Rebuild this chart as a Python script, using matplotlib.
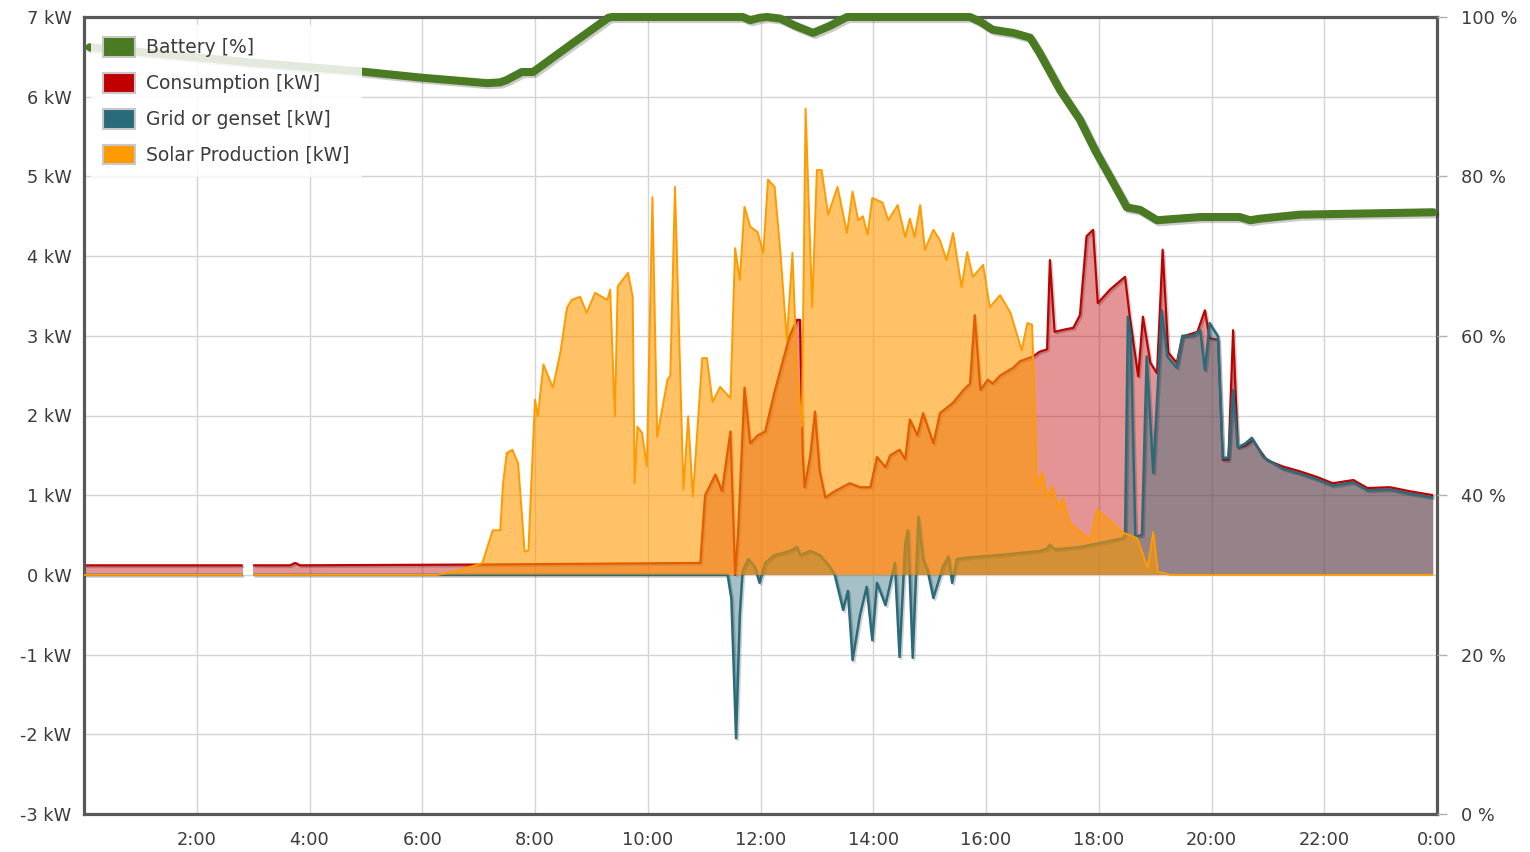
import matplotlib
matplotlib.use('Agg')
import matplotlib.pyplot as plt
import matplotlib.patheffects as pe
from matplotlib.patches import Patch
import numpy as np

# times in minutes since midnight
cons_t = [0, 169, 180, 219, 225, 230, 421, 656, 661, 672, 679, 688, 693, 696, 703, 709, 717, 725, 735,
          751, 759, 762, 765, 767, 773, 778, 783, 789, 799, 815, 826, 837, 844, 853, 858, 868, 874, 879,
          887, 893, 904, 911, 925, 936, 943, 948, 954, 962, 967, 975, 989, 996, 1010, 1017, 1025, 1028,
          1033, 1044, 1053, 1060, 1067, 1074, 1079, 1092, 1108, 1113, 1122, 1127, 1135, 1142, 1148, 1154,
          1163, 1169, 1185, 1193, 1198, 1207, 1212, 1218, 1223, 1228, 1236, 1244, 1252, 1259, 1276, 1294,
          1312, 1329, 1351, 1366, 1390, 1411, 1436]
cons_kw = [0.12, 0.12, 0.12, 0.12, 0.15, 0.12, 0.13, 0.15, 1.0, 1.26, 1.05, 1.8, 0.0, 0.5, 2.35, 1.65, 1.75,
           1.8, 2.3, 3.0, 3.2, 3.2, 1.5, 1.1, 1.5, 2.05, 1.3, 0.97, 1.05, 1.15, 1.1, 1.1, 1.48, 1.35, 1.5,
           1.57, 1.45, 1.95, 1.75, 2.03, 1.65, 2.03, 2.16, 2.32, 2.4, 3.26, 2.32, 2.45, 2.4, 2.5, 2.6, 2.68,
           2.74, 2.8, 2.83, 3.95, 3.05, 3.08, 3.1, 3.26, 4.25, 4.33, 3.41, 3.58, 3.74, 3.24, 2.49, 3.24,
           2.66, 2.53, 4.08, 2.79, 2.66, 2.99, 3.05, 3.32, 2.97, 2.95, 1.44, 1.44, 3.07, 1.6, 1.62, 1.69,
           1.55, 1.44, 1.36, 1.3, 1.23, 1.15, 1.19, 1.09, 1.1, 1.05, 1.0]

grid_t = [0, 169, 180, 685, 689, 694, 698, 701, 707, 714, 719, 725, 735, 746, 751, 759, 762, 773, 783, 794,
          799, 808, 813, 818, 826, 833, 839, 844, 853, 863, 868, 874, 877, 882, 888, 893, 898, 904, 909,
          914, 920, 924, 929, 943, 975, 1017, 1025, 1028, 1033, 1060, 1081, 1106, 1108, 1111, 1114, 1119,
          1126, 1131, 1138, 1147, 1153, 1163, 1169, 1180, 1188, 1193, 1198, 1207, 1212, 1218, 1223, 1228,
          1236, 1243, 1255, 1276, 1294, 1312, 1329, 1351, 1366, 1390, 1411, 1436]
grid_kw = [0, 0, 0, 0, -0.3, -2.05, -0.5, 0.05, 0.2, 0.1, -0.1, 0.15, 0.25, 0.28, 0.3, 0.35, 0.25, 0.3,
           0.25, 0.1, 0.0, -0.44, -0.2, -1.07, -0.5, -0.15, -0.82, -0.1, -0.38, 0.15, -1.03, 0.4, 0.56,
           -1.04, 0.73, 0.2, 0.05, -0.29, -0.1, 0.1, 0.23, -0.1, 0.2, 0.22, 0.25, 0.3, 0.33, 0.38, 0.32,
           0.35, 0.4, 0.46, 0.5, 3.24, 3.0, 0.48, 0.5, 2.74, 1.28, 3.32, 2.74, 2.6, 3.0, 3.0, 3.07, 2.57,
           3.16, 2.99, 1.47, 1.47, 2.32, 1.6, 1.65, 1.72, 1.48, 1.33, 1.27, 1.2, 1.12, 1.16, 1.06, 1.07,
           1.02, 0.97]

solar_t = [0, 169, 180, 368, 376, 400, 424, 435, 443, 446, 450, 456, 462, 469, 473, 480, 483, 489, 499, 507,
           514, 519, 528, 535, 544, 551, 557, 560, 565, 568, 579, 584, 586, 589, 594, 599, 605, 610, 621,
           624, 629, 638, 643, 648, 658, 663, 669, 677, 688, 693, 698, 703, 709, 717, 723, 728, 735, 741,
           748, 754, 759, 764, 768, 775, 780, 785, 792, 802, 812, 818, 824, 829, 834, 839, 850, 856, 866,
           874, 879, 884, 890, 895, 904, 911, 918, 925, 934, 940, 946, 957, 964, 975, 986, 998, 1004,
           1009, 1011, 1014, 1020, 1025, 1031, 1037, 1042, 1049, 1071, 1078, 1106, 1121, 1132, 1138,
           1143, 1156, 1436]
solar_kw = [0, 0, 0, 0, 0, 0.06, 0.15, 0.56, 0.56, 1.15, 1.53, 1.57, 1.4, 0.29, 0.31, 2.2, 1.99, 2.64, 2.35,
            2.79, 3.35, 3.45, 3.49, 3.29, 3.54, 3.49, 3.45, 3.58, 1.99, 3.62, 3.79, 3.49, 1.15, 1.86, 1.78,
            1.36, 4.74, 1.73, 2.45, 2.5, 4.87, 1.07, 1.99, 0.98, 2.72, 2.72, 2.17, 2.36, 2.22, 4.1, 3.7,
            4.62, 4.37, 4.3, 4.04, 4.96, 4.87, 4.08, 2.95, 4.04, 2.53, 1.86, 5.85, 3.36, 5.08, 5.08, 4.52,
            4.87, 4.29, 4.81, 4.45, 4.5, 4.27, 4.73, 4.67, 4.45, 4.64, 4.24, 4.47, 4.24, 4.64, 4.08, 4.33,
            4.2, 3.95, 4.29, 3.61, 4.05, 3.74, 3.89, 3.36, 3.51, 3.29, 2.82, 3.16, 3.14, 2.5, 1.1, 1.29,
            0.98, 1.1, 0.84, 0.96, 0.65, 0.44, 0.82, 0.53, 0.46, 0.09, 0.54, 0.04, 0, 0]

batt_t = [6, 70, 177, 292, 358, 429, 443, 450, 466, 478, 520, 558, 562, 701, 709, 719, 727, 741, 757, 776,
          794, 812, 943, 954, 967, 989, 1007, 1017, 1039, 1060, 1076, 1095, 1110, 1124, 1142, 1188, 1230,
          1241, 1252, 1294, 1436]
batt_pct = [96.2, 95.5, 94.3, 93.2, 92.4, 91.7, 91.8, 92.1, 93.1, 93.1, 96.7, 99.9, 100, 100, 99.6, 99.9,
            100, 99.8, 98.9, 98.0, 98.9, 100, 100, 99.4, 98.4, 98.0, 97.4, 95.5, 90.8, 87.1, 83.3, 79.3,
            76.1, 75.8, 74.5, 74.9, 74.9, 74.5, 74.7, 75.2, 75.5]

gap = (169, 180)  # logger gap, nothing recorded
hour_ticks = list(range(2, 25, 2))
hour_labels = ['%d:00' % (h % 24) for h in hour_ticks]
kw_ticks = list(range(-3, 8))
pct_ticks = [0, 20, 40, 60, 80, 100]

C_BATT, C_CONS, C_GRID, C_SOLAR = '#4a7a22', '#c00000', '#2a6b7b', '#ff9a00'
TXT = '#3c3c3c'
plt.rcParams['font.family'] = ['DejaVu Sans']


def with_gap(t, v):
    # break the series at the logger gap
    t = np.array(t, float); v = np.array(v, float)
    i = np.searchsorted(t, gap[1])
    t = np.insert(t, i, sum(gap) / 2); v = np.insert(v, i, np.nan)
    return t / 60, v


ct, cv = with_gap(cons_t, cons_kw)
gt, gv = with_gap(grid_t, grid_kw)
st, sv = with_gap(solar_t, solar_kw)

shadow = [pe.SimpleLineShadow(offset=(1.2, -1.2), alpha=0.18, shadow_color='k'), pe.Normal()]
line_kw = dict(solid_capstyle='butt')

fig = plt.figure(figsize=(15.3, 8.52), dpi=100)
ax = fig.add_axes([84 / 1530, 1 - 814 / 852, (1437 - 84) / 1530, (814 - 17) / 852])
ax.set_axisbelow(True)

ax.fill_between(ct, 0, cv, color=C_CONS, alpha=0.42, lw=0, zorder=2)
ax.plot(ct, cv, color=C_CONS, lw=1.6, zorder=2.1, path_effects=shadow, **line_kw)
ax.fill_between(gt, 0, gv, color=C_GRID, alpha=0.42, lw=0, zorder=3)
ax.plot(gt, gv, color=C_GRID, lw=1.8, zorder=3.1, path_effects=shadow, **line_kw)
ax.fill_between(st, 0, sv, color=C_SOLAR, alpha=0.6, lw=0, zorder=4)
ax.plot(st, sv, color=C_SOLAR, lw=1.4, zorder=4.1, **line_kw)

ax.set_xlim(0, 24)
ax.set_ylim(-3, 7)
ax.set_xticks(hour_ticks)
ax.set_xticklabels(hour_labels)
ax.set_yticks(kw_ticks)
ax.set_yticklabels(['%d kW' % v for v in kw_ticks])
ax.grid(True, color='#d4d4d4', lw=1)
ax.tick_params(axis='both', length=0, labelsize=12.8, labelcolor=TXT)
ax.tick_params(axis='y', pad=9)
ax.tick_params(axis='x', pad=12)
for s in ax.spines.values():
    s.set_color('#585858')
    s.set_linewidth(2.3)

ax2 = ax.twinx()
ax2.set_ylim(0, 100)
ax2.set_yticks(pct_ticks)
ax2.set_yticklabels(['%d %%' % v for v in pct_ticks])
ax2.tick_params(axis='y', length=7, width=1, color='#b0b0b0', labelsize=12.8, labelcolor=TXT, pad=10)
for s in ax2.spines.values():
    s.set_visible(False)
ax2.plot(np.array(batt_t) / 60, batt_pct, color=C_BATT, lw=5.8, solid_capstyle='round',
         solid_joinstyle='round', clip_on=False, zorder=5,
         path_effects=[pe.SimpleLineShadow(offset=(1.5, -1.5), alpha=0.2, shadow_color='k'), pe.Normal()])

handles = [Patch(facecolor=c, edgecolor='#c8c8c8', lw=1.5) for c in (C_BATT, C_CONS, C_GRID, C_SOLAR)]
labels = ['Battery [%]', 'Consumption [kW]', 'Grid or genset [kW]', 'Solar Production [kW]']
leg = ax2.legend(handles, labels, loc='upper left', bbox_to_anchor=(0.005, 0.99), borderaxespad=0,
                 fontsize=13.5, handlelength=1.7, handleheight=1.25, handletextpad=0.62,
                 labelspacing=0.83, borderpad=0.65, fancybox=False, framealpha=0.85,
                 edgecolor='none', facecolor='white')
for t in leg.get_texts():
    t.set_color(TXT)
leg.set_zorder(10)

fig.savefig('out.png', dpi=100)
